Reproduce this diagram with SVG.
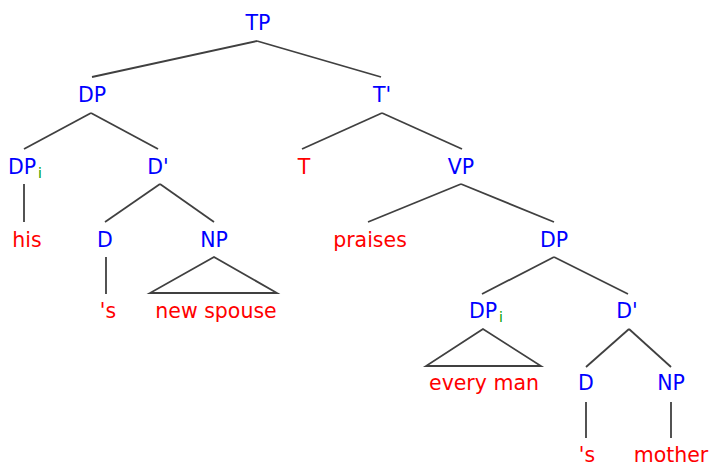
<svg xmlns="http://www.w3.org/2000/svg" width="711" height="466" viewBox="0 0 711 466">
  <style>
    text { font-family: "DejaVu Sans", "Liberation Sans", sans-serif; font-size: 20.5px; text-anchor: middle; }
    .cat { fill: #0000ff; }
    .word { fill: #ff0000; }
    .idx { fill: #00a000; font-size: 14px; text-anchor: start; }
    .edges line, .edges polygon { stroke: #404040; stroke-width: 1.8; fill: none; }
  </style>
  <rect width="711" height="466" fill="#ffffff"/>

  <!-- branches -->
  <g id="edges" class="edges">
    <line x1="257" y1="41" x2="92" y2="77"/>
    <line x1="257" y1="41" x2="381" y2="77"/>
    <line x1="91" y1="113" x2="24" y2="149"/>
    <line x1="91" y1="113" x2="158" y2="149"/>
    <line x1="382" y1="113" x2="302" y2="149"/>
    <line x1="382" y1="113" x2="462" y2="149"/>
    <line x1="24" y1="184" x2="24" y2="222"/>
    <line x1="160" y1="184" x2="105" y2="222"/>
    <line x1="160" y1="184" x2="214" y2="222"/>
    <line x1="461" y1="184" x2="368" y2="222"/>
    <line x1="461" y1="184" x2="554" y2="222"/>
    <line x1="106" y1="257" x2="106" y2="294"/>
    <polygon points="214,257 150,293 277,293"/>
    <line x1="554" y1="257" x2="482" y2="294"/>
    <line x1="554" y1="257" x2="628" y2="294"/>
    <polygon points="483,329 426,366 541,366"/>
    <line x1="629" y1="329" x2="586" y2="367"/>
    <line x1="629" y1="329" x2="671" y2="367"/>
    <line x1="586" y1="402" x2="586" y2="438"/>
    <line x1="671" y1="402" x2="671" y2="438"/>
  </g>

  <!-- nodes -->
  <g id="n-TP"><text class="cat" x="258" y="30">TP</text></g>
  <g id="n-DP"><text class="cat" x="92" y="102">DP</text></g>
  <g id="n-Tbar"><text class="cat" x="382" y="102">T'</text></g>
  <g id="n-DPi"><text class="cat" x="22" y="174">DP</text><text class="idx" x="38" y="178">i</text></g>
  <g id="n-Dbar"><text class="cat" x="158" y="174">D'</text></g>
  <g id="n-T"><text class="word" x="304" y="174">T</text></g>
  <g id="n-VP"><text class="cat" x="461" y="174">VP</text></g>
  <g id="n-his"><text class="word" x="27" y="247">his</text></g>
  <g id="n-D"><text class="cat" x="105" y="247">D</text></g>
  <g id="n-NP"><text class="cat" x="214" y="247">NP</text></g>
  <g id="n-praises"><text class="word" x="370" y="247">praises</text></g>
  <g id="n-DP2"><text class="cat" x="554" y="247">DP</text></g>
  <g id="n-s"><text class="word" x="108" y="318">'s</text></g>
  <g id="n-newspouse"><text class="word" x="216" y="318">new spouse</text></g>
  <g id="n-DPi2"><text class="cat" x="483" y="318">DP</text><text class="idx" x="499" y="322">i</text></g>
  <g id="n-Dbar2"><text class="cat" x="627" y="318">D'</text></g>
  <g id="n-everyman"><text class="word" x="484" y="390">every man</text></g>
  <g id="n-D2"><text class="cat" x="586" y="390">D</text></g>
  <g id="n-NP2"><text class="cat" x="671" y="390">NP</text></g>
  <g id="n-s2"><text class="word" x="587" y="462">'s</text></g>
  <g id="n-mother"><text class="word" x="671" y="462">mother</text></g>
</svg>
